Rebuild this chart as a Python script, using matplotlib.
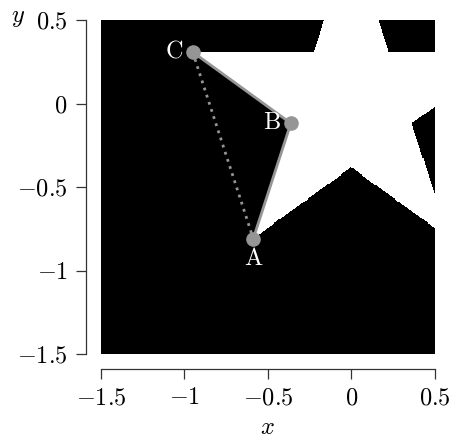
import numpy as np
import matplotlib
matplotlib.use("Agg")
import matplotlib.pyplot as plt
from matplotlib.path import Path
from matplotlib.ticker import FuncFormatter

# star outline (outer radius 1, inner radius 0.382), counter-clockwise from the top tip
star_x = [0.0, -0.225, -0.951, -0.363, -0.588, 0.0, 0.588, 0.363, 0.951, 0.225]
star_y = [1.0, 0.309, 0.309, -0.118, -0.809, -0.382, -0.809, -0.118, 0.309, 0.309]

# labelled points
pt_names = ["A", "B", "C"]
pt_x = [-0.588, -0.363, -0.951]
pt_y = [-0.809, -0.118, 0.309]

ticks = [-1.5, -1.0, -0.5, 0.0, 0.5]

plt.rcParams["font.family"] = "serif"
plt.rcParams["font.serif"] = ["cmr10", "DejaVu Serif"]
plt.rcParams["mathtext.fontset"] = "cm"
plt.rcParams["axes.unicode_minus"] = True

fig = plt.figure(figsize=(4.53, 4.41), dpi=100)
ax = fig.add_axes([0.223, 0.197, 0.737, 0.7576])

# rasterised star mask
n = 320
gx = np.linspace(-1.5, 0.5, n)
gy = np.linspace(-1.5, 0.5, n)
XX, YY = np.meshgrid(gx, gy)
star = Path(np.column_stack([star_x, star_y]))
mask = star.contains_points(np.column_stack([XX.ravel(), YY.ravel()])).reshape(XX.shape)
ax.imshow(mask, cmap="gray", origin="lower", extent=(-1.5, 0.5, -1.5, 0.5),
          interpolation="nearest", vmin=0, vmax=1)

grey = "#959595"
ia, ib, ic = 0, 1, 2
ax.plot([pt_x[ic], pt_x[ib], pt_x[ia]], [pt_y[ic], pt_y[ib], pt_y[ia]],
        color=grey, lw=2.0, solid_capstyle="round")
ax.plot([pt_x[ic], pt_x[ia]], [pt_y[ic], pt_y[ia]], color=grey, lw=2.0,
        linestyle=(0, (1, 1.7)))
ax.plot(pt_x, pt_y, "o", color=grey, ms=9.5, zorder=5)

fs = 17.5
ax.text(pt_x[ia], pt_y[ia] - 0.055, "A", color="white", ha="center", va="top", fontsize=fs)
ax.text(pt_x[ib] - 0.06, pt_y[ib], "B", color="white", ha="right", va="center", fontsize=fs)
ax.text(pt_x[ic] - 0.06, pt_y[ic], "C", color="white", ha="right", va="center", fontsize=fs)

ax.set_xlim(-1.5, 0.5)
ax.set_ylim(-1.5, 0.5)
ax.set_xticks(ticks)
ax.set_yticks(ticks)
fmt = FuncFormatter(lambda v, p: "$%g$" % v)
ax.xaxis.set_major_formatter(fmt)
ax.yaxis.set_major_formatter(fmt)
ax.tick_params(direction="out", length=7, width=0.9, labelsize=fs, pad=6, color="#333333")

for s in ["top", "right"]:
    ax.spines[s].set_visible(False)
for s in ["left", "bottom"]:
    ax.spines[s].set_position(("outward", 11))
    ax.spines[s].set_linewidth(0.9)
    ax.spines[s].set_color("#333333")
ax.spines["left"].set_bounds(-1.5, 0.5)
ax.spines["bottom"].set_bounds(-1.5, 0.5)

fig.text(267 / 453, 1 - 428 / 441, "$x$", ha="center", va="center", fontsize=fs)
fig.text(18 / 453, 1 - 18 / 441, "$y$", ha="center", va="center", fontsize=fs)

fig.savefig("out.png", dpi=100)
